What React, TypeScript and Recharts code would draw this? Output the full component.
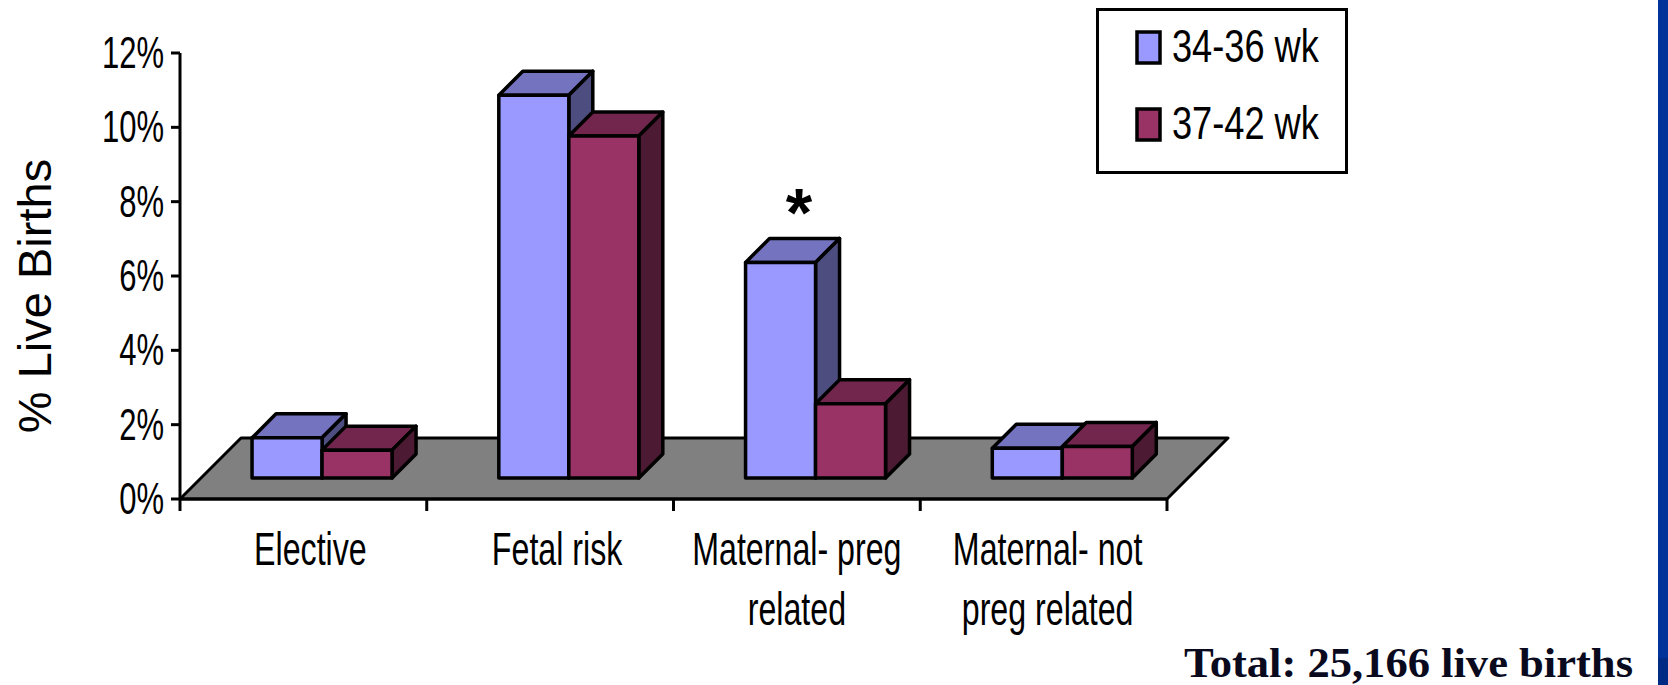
import { BarChart, Bar, XAxis, YAxis, Legend, usePlotArea } from 'recharts'

const categories = ['Elective', 'Fetal risk', 'Maternal- preg\nrelated', 'Maternal- not\npreg related']
const preterm = [1.08, 10.3, 5.8, 0.8]
const term = [0.75, 9.2, 2.0, 0.85]
const yTicks = [0, 2, 4, 6, 8, 10, 12]

const data = categories.map((name, i) => ({ name, preterm: preterm[i], term: term[i] }))

const WIDTH = 1668
const HEIGHT = 685
const PLOT_LEFT = 180
const PLOT_RIGHT = 1167
const PLOT_TOP = 53
const PLOT_BOTTOM = 499
const BAND = (PLOT_RIGHT - PLOT_LEFT) / categories.length
const LABEL_NUDGE = [7, 7, 0, 4]

const FONT = '"Liberation Sans", Arial, sans-serif'

// flat bars get pushed onto the floor, then extruded up and to the right
function Box3D({ x, y, width, height, fill, topFill, sideFill }: any) {
  const X = x + 19
  const Y = y - 21
  const d = 24
  const common = { stroke: '#000', strokeWidth: 3.5, strokeLinejoin: 'round' as const }
  return (
    <g>
      <polygon
        points={`${X},${Y} ${X + d},${Y - d} ${X + width + d},${Y - d} ${X + width},${Y}`}
        fill={topFill}
        {...common}
      />
      <polygon
        points={`${X + width},${Y} ${X + width + d},${Y - d} ${X + width + d},${Y + height - d} ${X + width},${Y + height}`}
        fill={sideFill}
        {...common}
      />
      <rect x={X} y={Y} width={width} height={height} fill={fill} {...common} />
    </g>
  )
}

function Floor() {
  const plot = usePlotArea()
  if (!plot) return null
  const left = plot.x
  const right = plot.x + plot.width
  const bottom = plot.y + plot.height
  const depth = 61
  return (
    <polygon
      points={`${left},${bottom} ${right},${bottom} ${right + depth},${bottom - depth} ${left + depth},${bottom - depth}`}
      fill="#808080"
      stroke="#000"
      strokeWidth={3}
      strokeLinejoin="round"
    />
  )
}

function YTick({ x, y, payload }: any) {
  return (
    <text
      transform={`translate(${x - 5},${y + 15}) scale(0.69,1)`}
      textAnchor="end"
      fontFamily={FONT}
      fontSize={45}
      fill="#000"
    >
      {payload.value}%
    </text>
  )
}

function XTick({ x, payload, index }: any) {
  const lines = String(payload.value).split('\n')
  const edge = x - BAND / 2
  return (
    <g>
      <line x1={edge} x2={edge} y1={PLOT_BOTTOM} y2={PLOT_BOTTOM + 12} stroke="#000" strokeWidth={3} />
      {index === categories.length - 1 && (
        <line x1={x + BAND / 2} x2={x + BAND / 2} y1={PLOT_BOTTOM} y2={PLOT_BOTTOM + 12} stroke="#000" strokeWidth={3} />
      )}
      {lines.map((line, i) => (
        <text
          key={line}
          transform={`translate(${x + LABEL_NUDGE[index]},${565 + i * 60}) scale(0.7,1)`}
          textAnchor="middle"
          fontFamily={FONT}
          fontSize={46}
          fill="#000"
        >
          {line}
        </text>
      ))}
    </g>
  )
}

function LegendBox({ payload }: any) {
  return (
    <svg width={252} height={166} style={{ display: 'block' }}>
      <rect x={1.5} y={1.5} width={249} height={163} fill="#fff" stroke="#000" strokeWidth={3} />
      {(payload ?? []).map((item: any, i: number) => (
        <g key={item.value}>
          <rect x={41} y={24 + i * 77} width={23} height={31} fill={item.color} stroke="#000" strokeWidth={3.5} />
          <text
            transform={`translate(76,${54 + i * 77}) scale(0.77,1)`}
            fontFamily={FONT}
            fontSize={47}
            fill="#000"
          >
            {item.value}
          </text>
        </g>
      ))}
    </svg>
  )
}

export default function App() {
  return (
    <div style={{ position: 'absolute', left: 0, top: 0, width: WIDTH, height: HEIGHT, background: '#fff', overflow: 'hidden' }}>
      <BarChart
        width={WIDTH}
        height={HEIGHT}
        data={data}
        margin={{ top: PLOT_TOP, right: WIDTH - PLOT_RIGHT, bottom: HEIGHT - PLOT_BOTTOM - 10, left: 80 }}
        barCategoryGap="21.5%"
        barGap={0}
      >
        <Floor />
        <XAxis
          dataKey="name"
          height={10}
          interval={0}
          tickLine={false}
          axisLine={{ stroke: '#000', strokeWidth: 3 }}
          tick={<XTick />}
        />
        <YAxis
          width={100}
          domain={[0, 12]}
          ticks={yTicks}
          interval={0}
          tickSize={9}
          tickLine={{ stroke: '#000', strokeWidth: 3 }}
          axisLine={{ stroke: '#000', strokeWidth: 3 }}
          tick={<YTick />}
        />
        {/* vertical + center + middle keeps the legend from eating plot space */}
        <Legend
          layout="vertical"
          verticalAlign="middle"
          align="center"
          content={<LegendBox />}
          wrapperStyle={{ position: 'absolute', left: 1096, top: 8, width: 252, height: 166 }}
        />
        <Bar
          dataKey="preterm"
          name="34-36 wk"
          fill="#9999FF"
          isAnimationActive={false}
          shape={<Box3D topFill="#7373BF" sideFill="#4D4D80" />}
        />
        <Bar
          dataKey="term"
          name="37-42 wk"
          fill="#993366"
          isAnimationActive={false}
          shape={<Box3D topFill="#73264D" sideFill="#4D1A33" />}
        />
        <text transform="translate(51,296) rotate(-90)" textAnchor="middle" fontFamily={FONT} fontSize={47} fill="#000">
          % Live Births
        </text>
        <text x={799} y={236} textAnchor="middle" fontFamily={FONT} fontWeight="bold" fontSize={68} fill="#000">
          *
        </text>
        <text
          x={1184}
          y={677}
          textLength={449}
          lengthAdjust="spacingAndGlyphs"
          fontFamily='"Liberation Serif", serif'
          fontWeight="bold"
          fontSize={42}
          fill="#0a0a1e"
        >
          Total: 25,166 live births
        </text>
      </BarChart>
      <div style={{ position: 'absolute', left: 1658, top: 0, width: 10, height: 658, background: '#003399' }} />
      <div style={{ position: 'absolute', left: 1658, top: 658, width: 10, height: 27, background: '#002B85' }} />
    </div>
  )
}
